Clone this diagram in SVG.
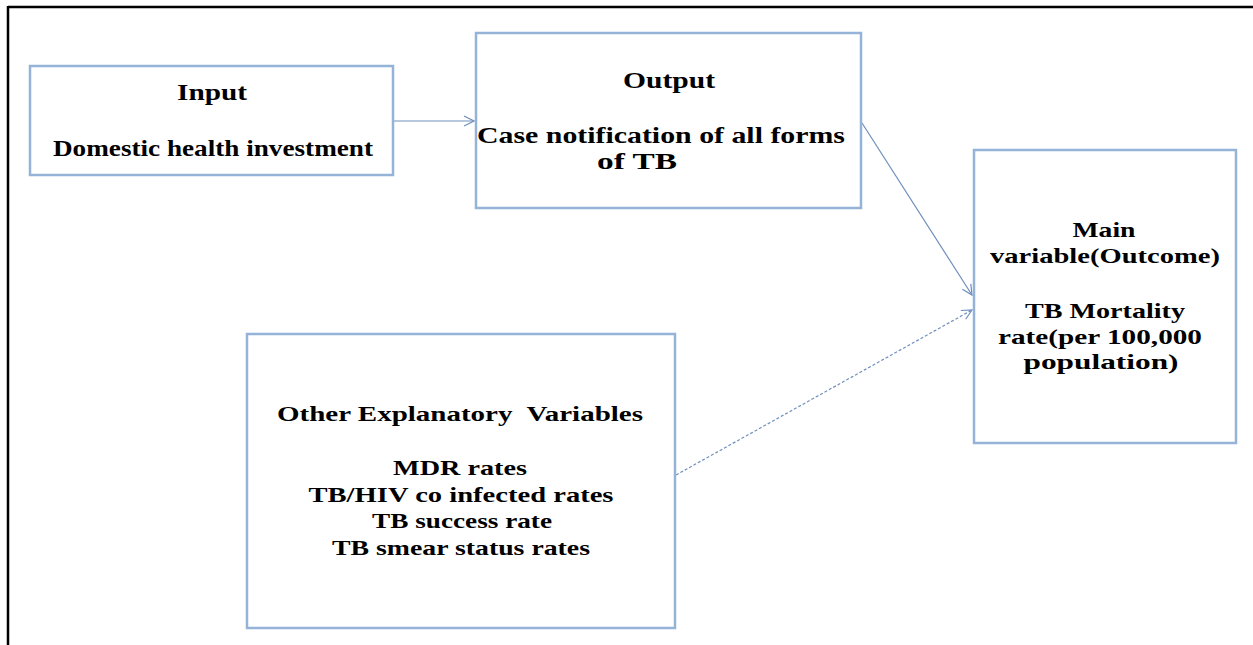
<svg xmlns="http://www.w3.org/2000/svg" width="1253" height="645" viewBox="0 0 1253 645">
  <defs>
    <style>
      .box { fill: #ffffff; stroke: #95b3d7; stroke-width: 2.5; }
      .t { font-family: "Liberation Serif", "Times New Roman", serif; font-weight: bold; fill: #000000; text-anchor: middle; }
      .big { font-size: 24px; }
      .mid { font-size: 22px; }
      .conn { stroke: #6f8fbd; stroke-width: 1.2; fill: none; }
      .dash { stroke-dasharray: 3 2; }
    </style>
    <marker id="arr" viewBox="0 0 12 12" refX="11" refY="6" markerWidth="12" markerHeight="12" markerUnits="userSpaceOnUse" orient="auto">
      <path d="M1,1 L11,6 L1,11" fill="none" stroke="#6f8fbd" stroke-width="1.2"/>
    </marker>
  </defs>
  <rect width="1253" height="645" fill="#ffffff"/>
  <g id="frame">
    <line x1="8" y1="7" x2="1253" y2="7" stroke="#000" stroke-width="2.5"/>
    <line x1="8" y1="6" x2="8" y2="645" stroke="#000" stroke-width="2.5"/>
  </g>
  <g id="connectors">
    <line class="conn" x1="394" y1="121" x2="474" y2="121" marker-end="url(#arr)"/>
    <line class="conn" x1="862" y1="123" x2="972" y2="295" marker-end="url(#arr)"/>
    <line class="conn dash" x1="676" y1="475" x2="972" y2="310" marker-end="url(#arr)"/>
  </g>
  <g id="input">
    <rect class="box" x="30" y="66" width="363" height="109"/>
    <text class="t big" x="212" y="100" textLength="70" lengthAdjust="spacingAndGlyphs">Input</text>
    <text class="t big" x="213" y="156" textLength="320" lengthAdjust="spacingAndGlyphs">Domestic health investment</text>
  </g>
  <g id="output">
    <rect class="box" x="476" y="33" width="385" height="175"/>
    <text class="t big" x="669" y="88" textLength="92" lengthAdjust="spacingAndGlyphs">Output</text>
    <text class="t big" x="661" y="143" textLength="368" lengthAdjust="spacingAndGlyphs">Case notification of all forms</text>
    <text class="t big" x="637" y="169" textLength="80" lengthAdjust="spacingAndGlyphs">of TB</text>
  </g>
  <g id="outcome">
    <rect class="box" x="974" y="150" width="262" height="293"/>
    <text class="t mid" x="1104" y="237" textLength="63" lengthAdjust="spacingAndGlyphs">Main</text>
    <text class="t mid" x="1105" y="263" textLength="230" lengthAdjust="spacingAndGlyphs">variable(Outcome)</text>
    <text class="t mid" x="1105" y="318" textLength="160" lengthAdjust="spacingAndGlyphs">TB Mortality</text>
    <text class="t mid" x="1100" y="344" textLength="204" lengthAdjust="spacingAndGlyphs">rate(per 100,000</text>
    <text class="t mid" x="1101" y="369" textLength="155" lengthAdjust="spacingAndGlyphs">population)</text>
  </g>
  <g id="explanatory">
    <rect class="box" x="247" y="334" width="428" height="294"/>
    <text class="t mid" x="460" y="421" textLength="366" lengthAdjust="spacingAndGlyphs" xml:space="preserve">Other Explanatory  Variables</text>
    <text class="t mid" x="460" y="475" textLength="134" lengthAdjust="spacingAndGlyphs">MDR rates</text>
    <text class="t mid" x="461" y="502" textLength="305" lengthAdjust="spacingAndGlyphs">TB/HIV co infected rates</text>
    <text class="t mid" x="462" y="528" textLength="180" lengthAdjust="spacingAndGlyphs">TB success rate</text>
    <text class="t mid" x="461" y="555" textLength="258" lengthAdjust="spacingAndGlyphs">TB smear status rates</text>
  </g>
</svg>
